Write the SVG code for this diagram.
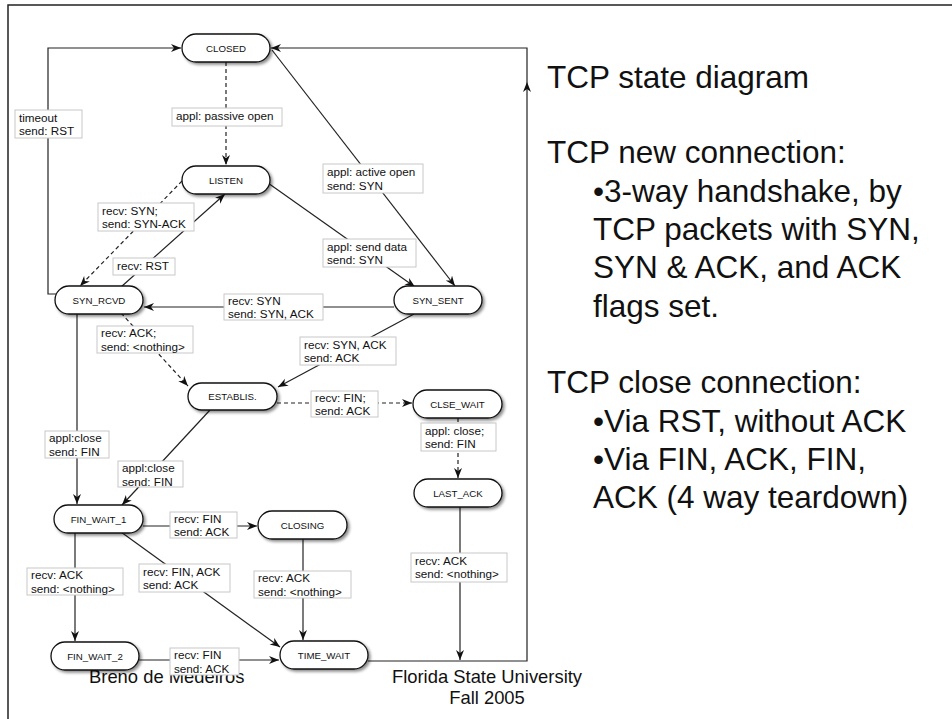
<svg xmlns="http://www.w3.org/2000/svg" width="952" height="719" viewBox="0 0 952 719">
<style>
text{font-family:"Liberation Sans",Arial,sans-serif;fill:#111}
.node rect{fill:#fff;stroke:#111;stroke-width:1.3;filter:url(#sh)}
.node text{font-size:9.7px;text-anchor:middle}
.lbl rect{fill:#fff;stroke:#c8c8c8;stroke-width:1}
.lbl text{font-size:11.7px}
.e{fill:none;stroke:#222;stroke-width:1.2;marker-end:url(#ah)}
.n{marker-end:none}
.d{stroke-dasharray:4 3}
.big{font-size:31.5px}
.foot{font-size:18.4px}
</style>
<defs>
<filter id="sh" x="-20%" y="-30%" width="150%" height="180%">
<feDropShadow dx="2" dy="2" stdDeviation="1.5" flood-color="#000" flood-opacity="0.45"/>
</filter>
<marker id="ah" markerUnits="userSpaceOnUse" markerWidth="12" markerHeight="10" refX="10" refY="4" orient="auto">
<path d="M0,0 L10,4 L0,8 L3,4 z" fill="#111"/>
</marker>
</defs>
<rect width="952" height="719" fill="#fff"/>
<path d="M8,719 V5 H952" fill="none" stroke="#222" stroke-width="1.5"/>

<g id="footer">
<text class="foot" x="89" y="683">Breno de Medeiros</text>
<text class="foot" x="487" y="683" text-anchor="middle">Florida State University</text>
<text class="foot" x="487" y="704" text-anchor="middle">Fall 2005</text>
</g>

<g id="notes">
<text class="big" x="547" y="88">TCP state diagram</text>
<text class="big" x="547" y="163">TCP new connection:</text>
<text class="big" x="593" y="202">•3-way handshake, by</text>
<text class="big" x="593" y="240">TCP packets with SYN,</text>
<text class="big" x="593" y="278">SYN &amp; ACK, and ACK</text>
<text class="big" x="593" y="317">flags set.</text>
<text class="big" x="547" y="393">TCP close connection:</text>
<text class="big" x="593" y="432">•Via RST, without ACK</text>
<text class="big" x="593" y="470">•Via FIN, ACK, FIN,</text>
<text class="big" x="593" y="508">ACK (4 way teardown)</text>
</g>

<g id="connectors">
<path class="e" d="M56,294 H48 V48 H181"/>
<path class="e d" d="M226,62 V165"/>
<path class="e d" d="M182,181 L80,286"/>
<path class="e" d="M121,287 L225,194"/>
<path class="e" d="M268,183 L415,287"/>
<path class="e" d="M272,50 L455,286"/>
<path class="e" d="M394,307 L144,307"/>
<path class="e d" d="M121,313 L188,386"/>
<path class="e" d="M414,314 L278,387"/>
<path class="e d" d="M277,403 L412,403"/>
<path class="e d" d="M458,418 V478"/>
<path class="e" d="M460,507 V660"/>
<path class="e" d="M368,661 H527 V82"/>
<path class="e" d="M527,82 V48 H271"/>
<path class="e" d="M77,313 V504"/>
<path class="e" d="M210,410 L122,505"/>
<path class="e" d="M143,526 H257"/>
<path class="e" d="M75,533 V641"/>
<path class="e" d="M121,532 L280,647"/>
<path class="e" d="M303,539 V640"/>
<path class="e" d="M139,660 H279"/>
</g>

<g id="labels">
<g class="lbl"><rect x="15" y="110" width="67" height="28"/><text x="19" y="121.5">timeout</text><text x="19" y="135">send: RST</text></g>
<g class="lbl"><rect x="172" y="108" width="110" height="18"/><text x="176" y="120">appl: passive open</text></g>
<g class="lbl"><rect x="98" y="203" width="96" height="28"/><text x="102" y="214.5">recv: SYN;</text><text x="102" y="228">send: SYN-ACK</text></g>
<g class="lbl"><rect x="113" y="258" width="62" height="17"/><text x="117" y="270">recv: RST</text></g>
<g class="lbl"><rect x="323" y="239" width="93" height="28"/><text x="327" y="250.5">appl: send data</text><text x="327" y="264">send: SYN</text></g>
<g class="lbl"><rect x="323" y="164" width="100" height="29"/><text x="327" y="176">appl: active open</text><text x="327" y="189.5">send: SYN</text></g>
<g class="lbl"><rect x="224" y="294" width="99" height="26"/><text x="228" y="305">recv: SYN</text><text x="228" y="318">send: SYN, ACK</text></g>
<g class="lbl"><rect x="97" y="326" width="96" height="27"/><text x="101" y="337">recv: ACK;</text><text x="101" y="350.5">send: &lt;nothing&gt;</text></g>
<g class="lbl"><rect x="300" y="337" width="96" height="28"/><text x="304" y="348.5">recv: SYN, ACK</text><text x="304" y="362">send: ACK</text></g>
<g class="lbl"><rect x="311" y="391" width="67" height="26"/><text x="315" y="402">recv: FIN;</text><text x="315" y="415">send: ACK</text></g>
<g class="lbl"><rect x="421" y="423" width="75" height="28"/><text x="425" y="434.5">appl: close;</text><text x="425" y="448">send: FIN</text></g>
<g class="lbl"><rect x="411" y="553" width="96" height="29"/><text x="415" y="564.5">recv: ACK</text><text x="415" y="578">send: &lt;nothing&gt;</text></g>
<g class="lbl"><rect x="45" y="431" width="64" height="27"/><text x="49" y="442">appl:close</text><text x="49" y="455.5">send: FIN</text></g>
<g class="lbl"><rect x="118" y="461" width="65" height="26"/><text x="122" y="472">appl:close</text><text x="122" y="485.5">send: FIN</text></g>
<g class="lbl"><rect x="170" y="512" width="67" height="26"/><text x="174" y="523">recv: FIN</text><text x="174" y="536">send: ACK</text></g>
<g class="lbl"><rect x="27" y="568" width="96" height="27"/><text x="31" y="579">recv: ACK</text><text x="31" y="592.5">send: &lt;nothing&gt;</text></g>
<g class="lbl"><rect x="139" y="564" width="91" height="28"/><text x="143" y="575.5">recv: FIN, ACK</text><text x="143" y="589">send: ACK</text></g>
<g class="lbl"><rect x="254" y="571" width="97" height="27"/><text x="258" y="582">recv: ACK</text><text x="258" y="595.5">send: &lt;nothing&gt;</text></g>
<g class="lbl"><rect x="170" y="648" width="69" height="27"/><text x="174" y="659">recv: FIN</text><text x="174" y="672.5">send: ACK</text></g>
</g>

<g id="CLOSED" class="node"><rect x="182" y="34" width="88" height="28" rx="14"/><text x="226" y="51.5">CLOSED</text></g>
<g id="LISTEN" class="node"><rect x="182" y="166" width="88" height="28" rx="14"/><text x="226" y="183.5">LISTEN</text></g>
<g id="SYN_RCVD" class="node"><rect x="55" y="286" width="88" height="28" rx="14"/><text x="99" y="303.5">SYN_RCVD</text></g>
<g id="SYN_SENT" class="node"><rect x="394" y="286" width="88" height="28" rx="14"/><text x="438" y="303.5">SYN_SENT</text></g>
<g id="ESTABLIS" class="node"><rect x="188" y="383" width="89" height="27" rx="13.5"/><text x="232.5" y="400">ESTABLIS.</text></g>
<g id="CLSE_WAIT" class="node"><rect x="413" y="390" width="89" height="28" rx="14"/><text x="457.5" y="407.5">CLSE_WAIT</text></g>
<g id="LAST_ACK" class="node"><rect x="414" y="479" width="88" height="28" rx="14"/><text x="458" y="496.5">LAST_ACK</text></g>
<g id="FIN_WAIT_1" class="node"><rect x="54" y="505" width="89" height="28" rx="14"/><text x="98.5" y="522.5">FIN_WAIT_1</text></g>
<g id="CLOSING" class="node"><rect x="258" y="511" width="89" height="28" rx="14"/><text x="302.5" y="528.5">CLOSING</text></g>
<g id="FIN_WAIT_2" class="node"><rect x="51" y="642" width="88" height="28" rx="14"/><text x="95" y="659.5">FIN_WAIT_2</text></g>
<g id="TIME_WAIT" class="node"><rect x="280" y="641" width="88" height="28" rx="14"/><text x="324" y="658.5">TIME_WAIT</text></g>
</svg>
